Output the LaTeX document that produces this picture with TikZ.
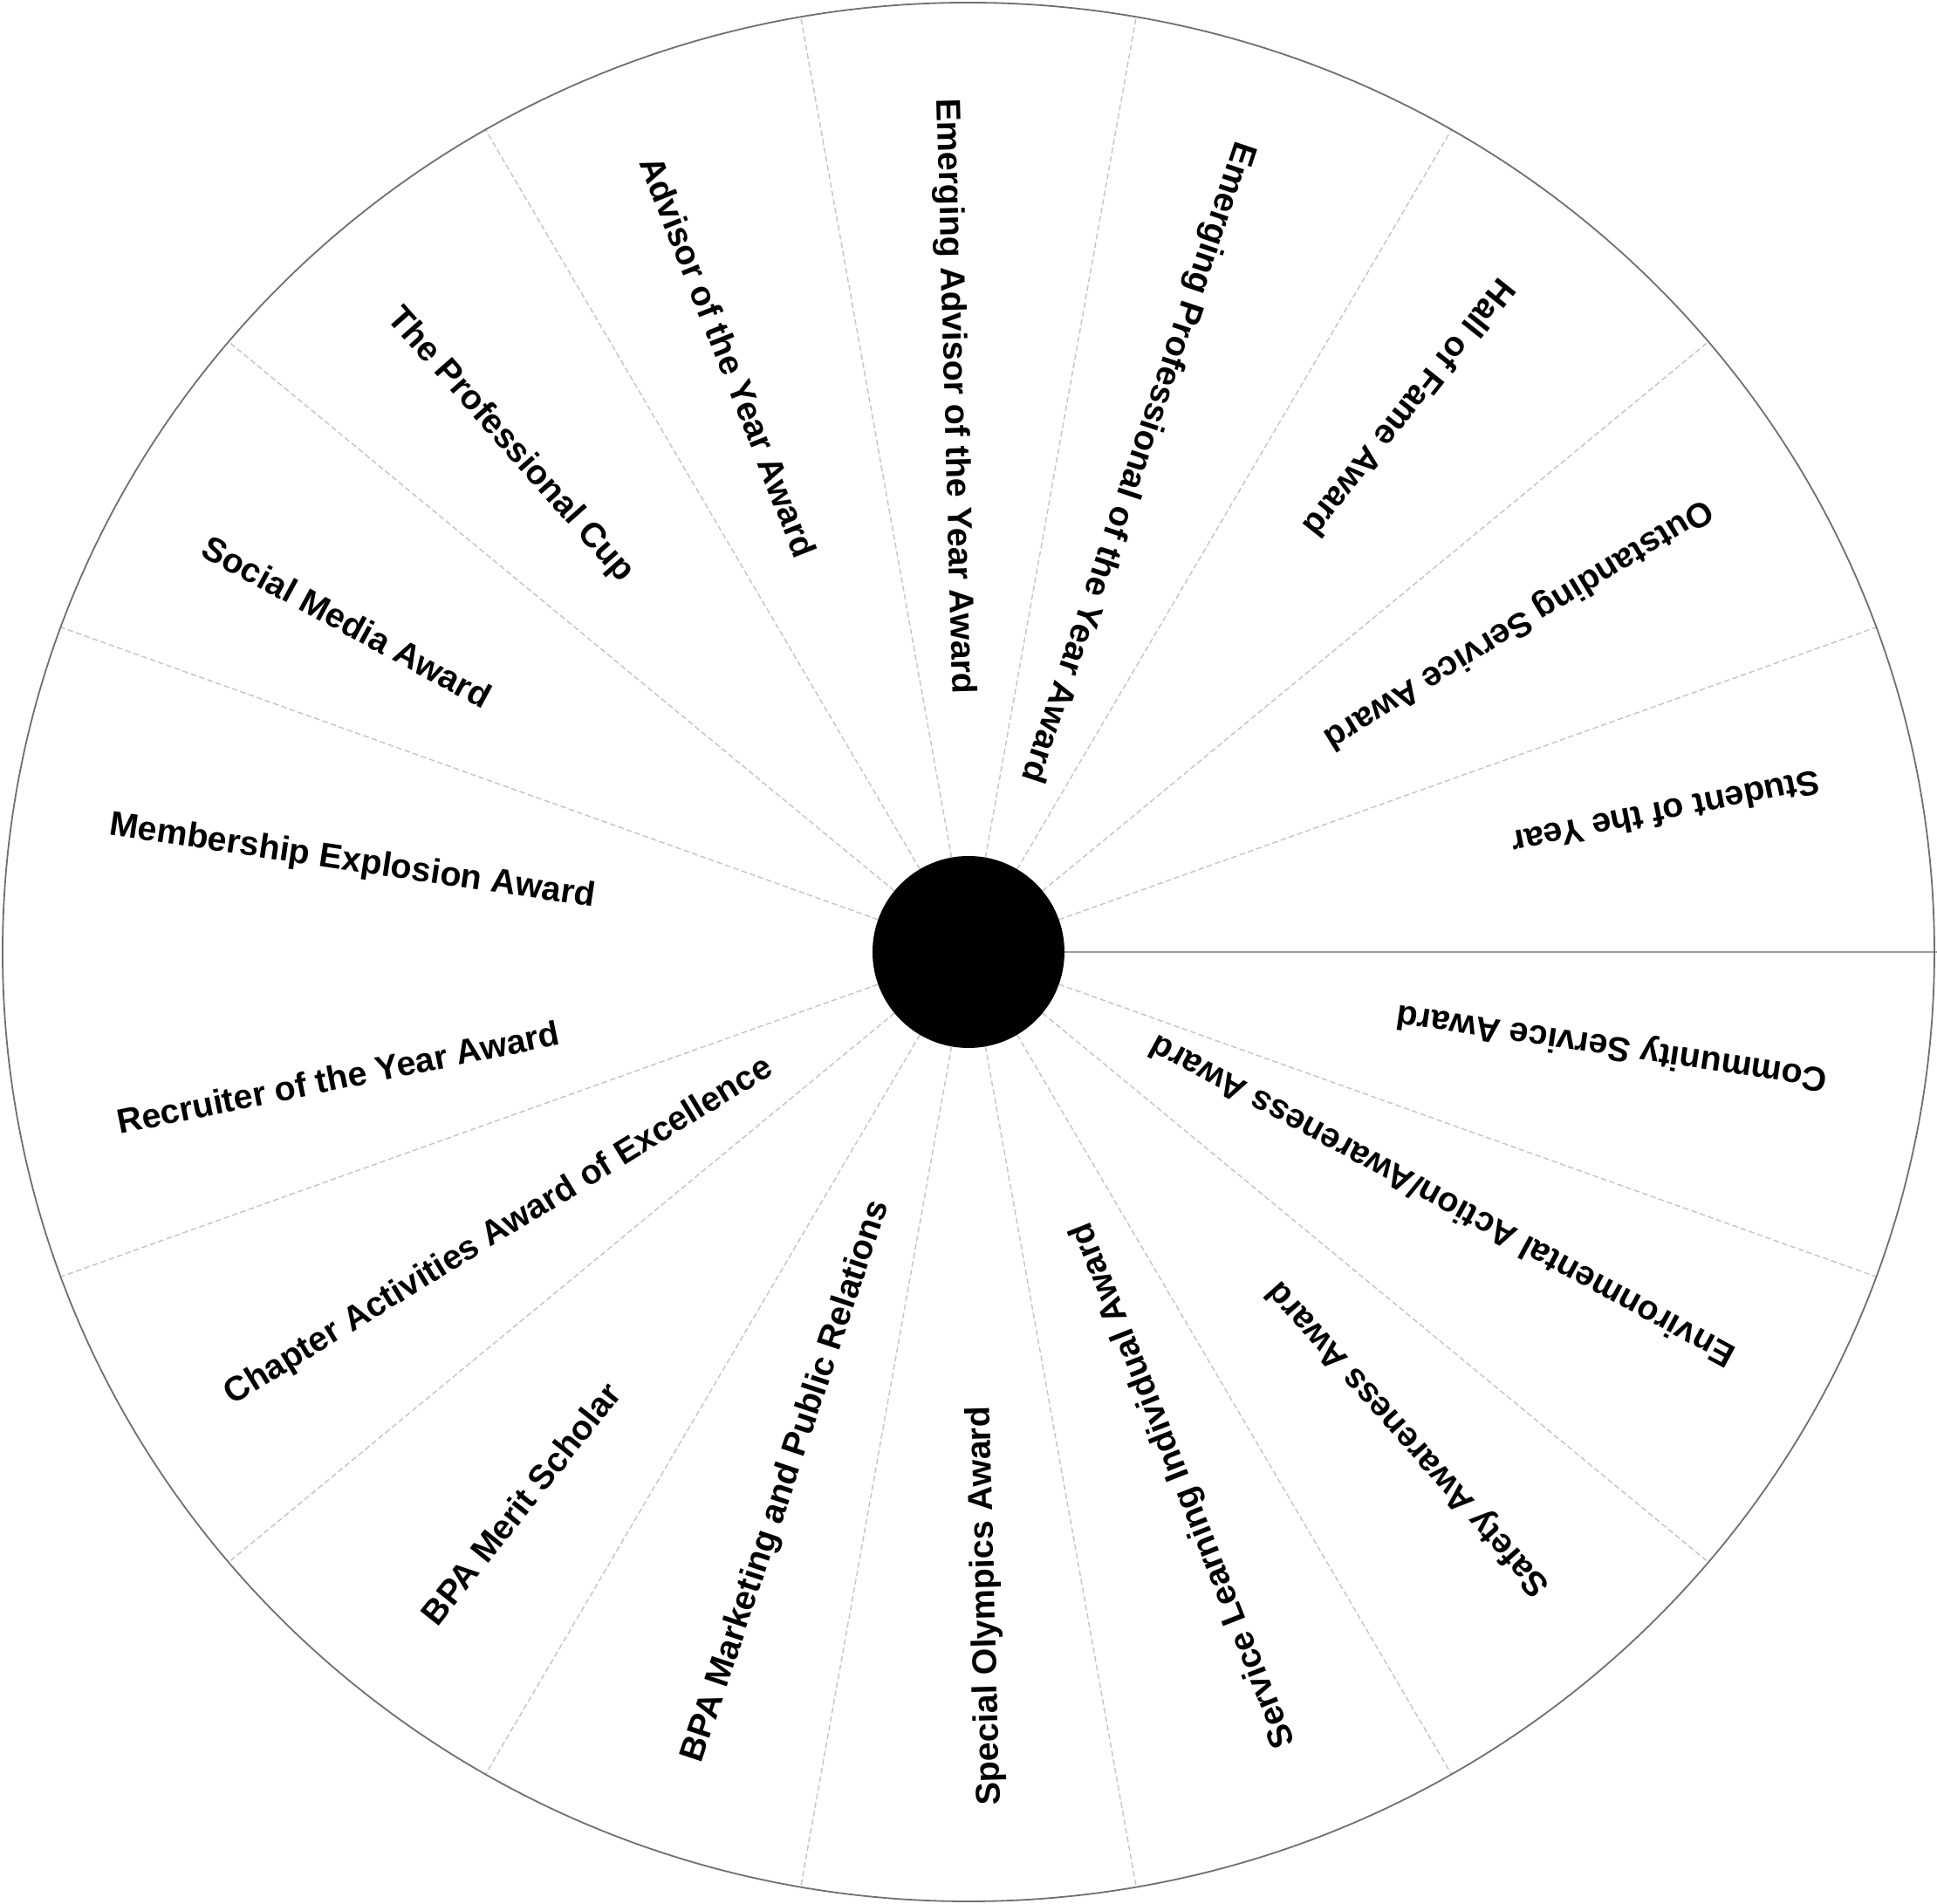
\documentclass[tikz,border=0pt]{standalone}
\usepackage{fontspec}
\setmainfont{Liberation Sans}
\definecolor{rimgray}{HTML}{707070}
\definecolor{spokegray}{HTML}{C4C4C4}
\definecolor{zerogray}{HTML}{9C9C9C}
\begin{document}
\begin{tikzpicture}[x=0.25pt, y=0.245713pt,
  lab/.style={font=\fontsize{9.85}{12}\selectfont\bfseries, inner sep=0pt, anchor=west},
  spoke/.style={draw=spokegray, line width=0.35pt, dash pattern=on 1.6pt off 0.9pt},
  rim/.style={draw=rimgray, line width=0.45pt},
  zeroline/.style={draw=zerogray, line width=0.65pt},
  hubstyle/.style={circle, fill=black, minimum size=55pt, inner sep=0pt}]
\useasboundingbox (-277.5pt,-272.75pt) rectangle (277.5pt,272.75pt);
\fill[white] (-277.5pt,-272.75pt) rectangle (277.5pt,272.75pt);
\foreach \a in {20,40,...,160,200,220,...,340}
  \draw[spoke] (0,0) -- (\a:1107);
\draw[zeroline] (0,0) -- (1110,0);
\draw[rim] (0,0) circle[x radius=1107, y radius=1107];
\node[hubstyle] (hub) at (0,0) {};
\foreach \t [count=\i from 0] in {
  {Student of the Year},
  {Outstanding Service Award},
  {Hall of Fame Award},
  {Emerging Professional of the Year Award},
  {Emerging Advisor of the Year Award},
  {Advisor of the Year Award},
  {The Professional Cup},
  {Social Media Award},
  {Membership Explosion Award},
  {Recruiter of the Year Award},
  {Chapter Activities Award of Excellence},
  {BPA Merit Scholar},
  {BPA Marketing and Public Relations},
  {Special Olympics Award},
  {Service Learning Individual Award},
  {Safety Awareness Award},
  {Environmental Action/Awareness Award},
  {Community Service Award}}
{
  \pgfmathsetmacro\ang{11.5+20*\i}
  \node[lab, rotate=\ang+180] (l\i) at (\ang:996) {\t};
}
\end{tikzpicture}
\end{document}
